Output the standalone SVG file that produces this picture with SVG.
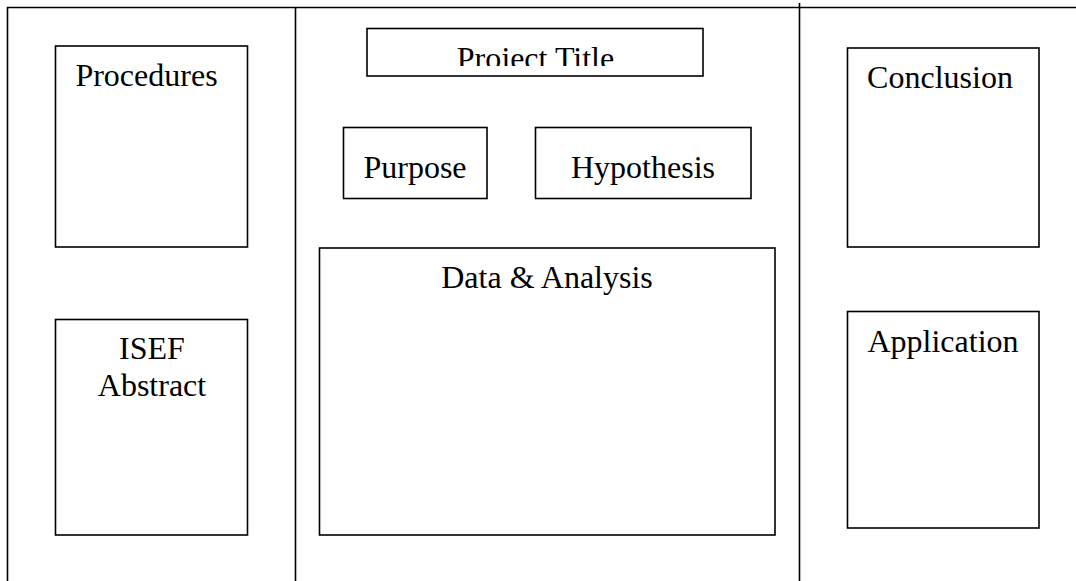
<svg xmlns="http://www.w3.org/2000/svg" width="1076" height="581" viewBox="0 0 1076 581">
<style>
.b{fill:#fff;stroke:#000;stroke-width:1.6}
.l{stroke:#000;stroke-width:1.6;fill:none}
text{font-family:"Liberation Serif","Times New Roman",serif;font-size:32px;fill:#000;text-anchor:middle}
</style>
<defs>
<clipPath id="tc"><rect x="368" y="29" width="334" height="37"/></clipPath>
</defs>
<rect width="1076" height="581" fill="#fff"/>
<g id="connectors">
<line class="l" x1="7" y1="7.5" x2="1076" y2="7.5"/>
<line class="l" x1="7.5" y1="7" x2="7.5" y2="581"/>
<line class="l" x1="295.5" y1="7" x2="295.5" y2="581"/>
<line class="l" x1="799.5" y1="3" x2="799.5" y2="581"/>
</g>
<g id="procedures"><rect class="b" x="55.5" y="46" width="192" height="201"/><text x="146.5" y="86">Procedures</text></g>
<g id="isef"><rect class="b" x="55.5" y="319.5" width="192" height="215.5"/><text x="152" y="359">ISEF</text><text x="152" y="396">Abstract</text></g>
<g id="title"><rect class="b" x="367" y="28.5" width="336" height="47.5"/><text x="535.5" y="69" clip-path="url(#tc)">Project Title</text></g>
<g id="purpose"><rect class="b" x="343.5" y="127.5" width="143.5" height="71"/><text x="415" y="178">Purpose</text></g>
<g id="hypothesis"><rect class="b" x="535.5" y="127.5" width="215.5" height="71"/><text x="643" y="178">Hypothesis</text></g>
<g id="data"><rect class="b" x="319.5" y="248" width="455.5" height="287"/><text x="547" y="288">Data &amp; Analysis</text></g>
<g id="conclusion"><rect class="b" x="847.5" y="48" width="191.5" height="199"/><text x="940" y="88">Conclusion</text></g>
<g id="application"><rect class="b" x="847.5" y="311.5" width="191.5" height="216.5"/><text x="943" y="352">Application</text></g>
</svg>
